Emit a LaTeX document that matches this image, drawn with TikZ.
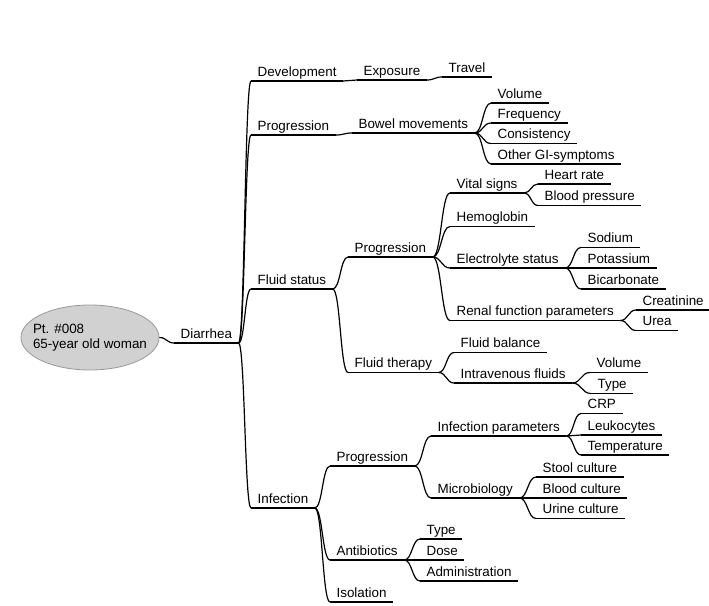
\documentclass[tikz,border=0pt]{standalone}
\usepackage{fontspec}
\setmainfont{Liberation Sans}
\usetikzlibrary{shapes.geometric,calc}

\begin{document}
\begin{tikzpicture}[
    x=1pt, y=-1pt,
    line width=1.2pt,
    topic/.style={anchor=south west, inner xsep=6pt, inner ysep=1.5pt,
                  text height=9.6pt, text depth=2.5pt,
                  font=\fontsize{13.4}{14.7}\selectfont,
                  append after command={(\tikzlastnode.south west) edge (\tikzlastnode.south east)}},
    patient/.style={ellipse, draw=black!40, fill=black!18, line width=0.8pt,
                  minimum width=138pt, minimum height=65pt},
    caption/.style={align=left, inner sep=0pt,
                  font=\fontsize{13.4}{14.7}\selectfont},
    branch/.style={to path={let \p1=(\tikztostart), \p2=(\tikztotarget) in
                  .. controls ({(\x1+\x2)/2},\y1) and ({(\x1+\x2)/2},\y2) .. (\tikztotarget)}}
]
\useasboundingbox (0,0) rectangle (709,605);

% Root
\node[patient] (root) at (90,337.5) {};
\node[caption] (rootText) at (root.center) {Pt. \#008\\65-year old woman};
\node[topic] (dia) at (174,343) {Diarrhea};

% First level
\node[topic] (dev)   at (251,81)  {Development};
\node[topic] (prog1) at (251,135) {Progression};
\node[topic] (fluid) at (251,289) {Fluid status};
\node[topic] (inf)   at (251,508) {Infection};

% Development
\node[topic] (expo)   at (357,80) {Exposure};
\node[topic] (travel) at (442,77) {Travel};

% Progression
\node[topic] (bowel) at (352,133)   {Bowel movements};
\node[topic] (vol1)  at (491,103)   {Volume};
\node[topic] (freq)  at (491,123)   {Frequency};
\node[topic] (cons)  at (491,143.5) {Consistency};
\node[topic] (gi)    at (491,164)   {Other GI-symptoms};

% Fluid status
\node[topic] (prog2) at (348,257)   {Progression};
\node[topic] (vital) at (450,193)   {Vital signs};
\node[topic] (heart) at (538,184)   {Heart rate};
\node[topic] (bp)    at (538,205.5) {Blood pressure};
\node[topic] (hb)    at (450,226.5) {Hemoglobin};
\node[topic] (elec)  at (450,268)   {Electrolyte status};
\node[topic] (na)    at (581,247.5) {Sodium};
\node[topic] (k)     at (581,268)   {Potassium};
\node[topic] (bic)   at (581,289)   {Bicarbonate};
\node[topic] (renal) at (450,320.5) {Renal function parameters};
\node[topic] (crea)  at (636,310)   {Creatinine};
\node[topic] (urea)  at (636,330.5) {Urea};
\node[topic] (ther)  at (348,372.5) {Fluid therapy};
\node[topic] (bal)   at (454,352.5) {Fluid balance};
\node[topic] (iv)    at (454,383)   {Intravenous fluids};
\node[topic] (vol2)  at (590,372.5) {Volume};
\node[topic] (type1) at (591,393.5) {Type};

% Infection
\node[topic] (prog3) at (330,466)   {Progression};
\node[topic] (ipar)  at (431,436)   {Infection parameters};
\node[topic] (crp)   at (581,413.5) {CRP};
\node[topic] (leuk)  at (581,435)   {Leukocytes};
\node[topic] (temp)  at (581,455)   {Temperature};
\node[topic] (micro) at (431,498)   {Microbiology};
\node[topic] (stool) at (536,477)   {Stool culture};
\node[topic] (blood) at (536,498)   {Blood culture};
\node[topic] (urine) at (536,518.5) {Urine culture};
\node[topic] (abx)   at (330,560)   {Antibiotics};
\node[topic] (type2) at (420,539)   {Type};
\node[topic] (dose)  at (420,560)   {Dose};
\node[topic] (admin) at (420,581)   {Administration};
\node[topic] (iso)   at (330,602)   {Isolation};

% Branches
\draw (root.east) to[branch] (dia.south west);
\foreach \a/\b in {dia/dev, dia/prog1, dia/fluid, dia/inf,
                   dev/expo, expo/travel,
                   prog1/bowel, bowel/vol1, bowel/freq, bowel/cons, bowel/gi,
                   fluid/prog2, prog2/vital, vital/heart, vital/bp, prog2/hb,
                   prog2/elec, elec/na, elec/k, elec/bic,
                   prog2/renal, renal/crea, renal/urea,
                   fluid/ther, ther/bal, ther/iv, iv/vol2, iv/type1,
                   inf/prog3, prog3/ipar, ipar/crp, ipar/leuk, ipar/temp,
                   prog3/micro, micro/stool, micro/blood, micro/urine,
                   inf/abx, abx/type2, abx/dose, abx/admin, inf/iso}
  \draw (\a.south east) to[branch] (\b.south west);

\end{tikzpicture}
\end{document}
